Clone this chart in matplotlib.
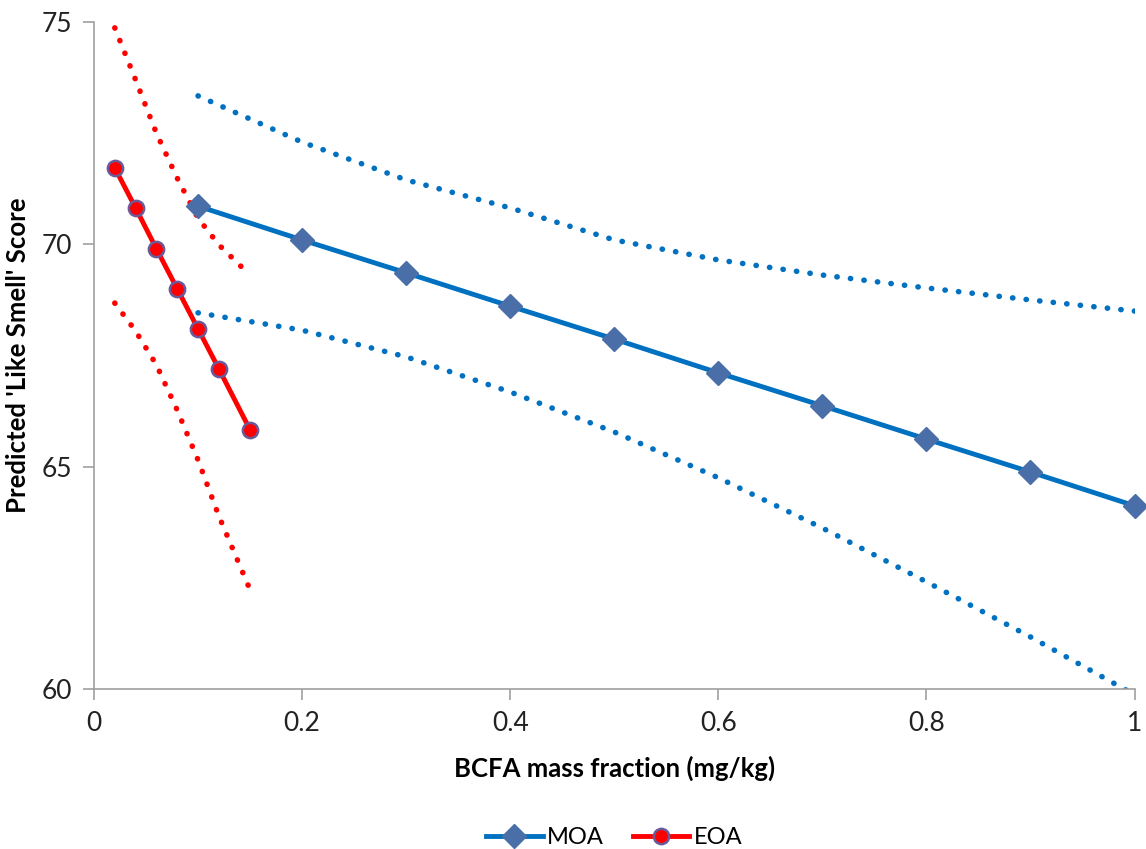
import matplotlib
matplotlib.use("Agg")
import matplotlib.pyplot as plt

plt.rcParams["font.family"] = ["Lato", "DejaVu Sans"]

# MOA fitted line and confidence bands
moa_x = [0.1, 0.2, 0.3, 0.4, 0.5, 0.6, 0.7, 0.8, 0.9, 1.0]
moa_y = [70.86, 70.10, 69.36, 68.61, 67.87, 67.11, 66.37, 65.62, 64.88, 64.12]
moa_upper = [73.34, 72.30, 71.45, 70.82, 70.10, 69.65, 69.31, 69.02, 68.75, 68.50]
moa_lower = [68.46, 68.07, 67.47, 66.68, 65.78, 64.75, 63.62, 62.41, 61.17, 59.87]

# EOA fitted line and confidence bands
eoa_x = [0.02, 0.04, 0.06, 0.08, 0.10, 0.12, 0.15]
eoa_y = [71.72, 70.82, 69.90, 69.00, 68.10, 67.20, 65.83]
eoa_band_x = [0.02, 0.04, 0.06, 0.08, 0.10, 0.12, 0.145]
eoa_upper = [74.87, 73.70, 72.50, 71.49, 70.59, 69.99, 69.42]
eoa_lower_x = [0.02, 0.04, 0.06, 0.08, 0.10, 0.12, 0.15]
eoa_lower = [68.68, 68.05, 67.29, 66.27, 65.15, 63.89, 62.23]

BLUE = "#0070c0"
RED = "#ff0000"
DOTS = (0, (0.05, 2.4))

fig = plt.figure(figsize=(11.46, 8.49), dpi=100)
ax = fig.add_axes([0.082, 0.1885, 0.908, 0.7855])

for bx, by, c in [(moa_x, moa_upper, BLUE), (moa_x, moa_lower, BLUE),
                  (eoa_band_x, eoa_upper, RED), (eoa_lower_x, eoa_lower, RED)]:
    ax.plot(bx, by, color=c, lw=4, ls=DOTS, dash_capstyle="round")

ax.plot(moa_x, moa_y, color=BLUE, lw=3.5, marker="D", ms=12,
        mfc="#4a6fa8", mec="#4a6fa8", label="MOA", clip_on=False, zorder=5)
ax.plot(eoa_x, eoa_y, color=RED, lw=3.5, marker="o", ms=11,
        mfc=RED, mec="#6b5a9a", mew=1.8, label="EOA", zorder=6)

ax.set_xlim(0, 1)
ax.set_ylim(60, 75)
ax.set_xticks([0, 0.2, 0.4, 0.6, 0.8, 1])
ax.set_xticklabels(["0", "0.2", "0.4", "0.6", "0.8", "1"])
ax.set_yticks([60, 65, 70, 75])

for s in ["top", "right"]:
    ax.spines[s].set_visible(False)
for s in ["left", "bottom"]:
    ax.spines[s].set_color("#a0a0a0")
    ax.spines[s].set_linewidth(1.2)
ax.tick_params(direction="out", length=8, width=1.2, color="#a0a0a0",
               labelsize=19, labelcolor="#222222", pad=8)

ax.set_xlabel("BCFA mass fraction (mg/kg)", fontsize=18.5, fontweight="bold", labelpad=14)
ax.set_ylabel("Predicted 'Like Smell' Score", fontsize=18.5, fontweight="bold",
              va="center")
ax.yaxis.set_label_coords(-0.073, 0.5)

ax.legend(loc="lower center", bbox_to_anchor=(0.5, -0.27), ncol=2, frameon=False,
          fontsize=17, handlelength=2.4, columnspacing=1.2, handletextpad=0.2)

fig.savefig("out.png", dpi=100, facecolor="white")
